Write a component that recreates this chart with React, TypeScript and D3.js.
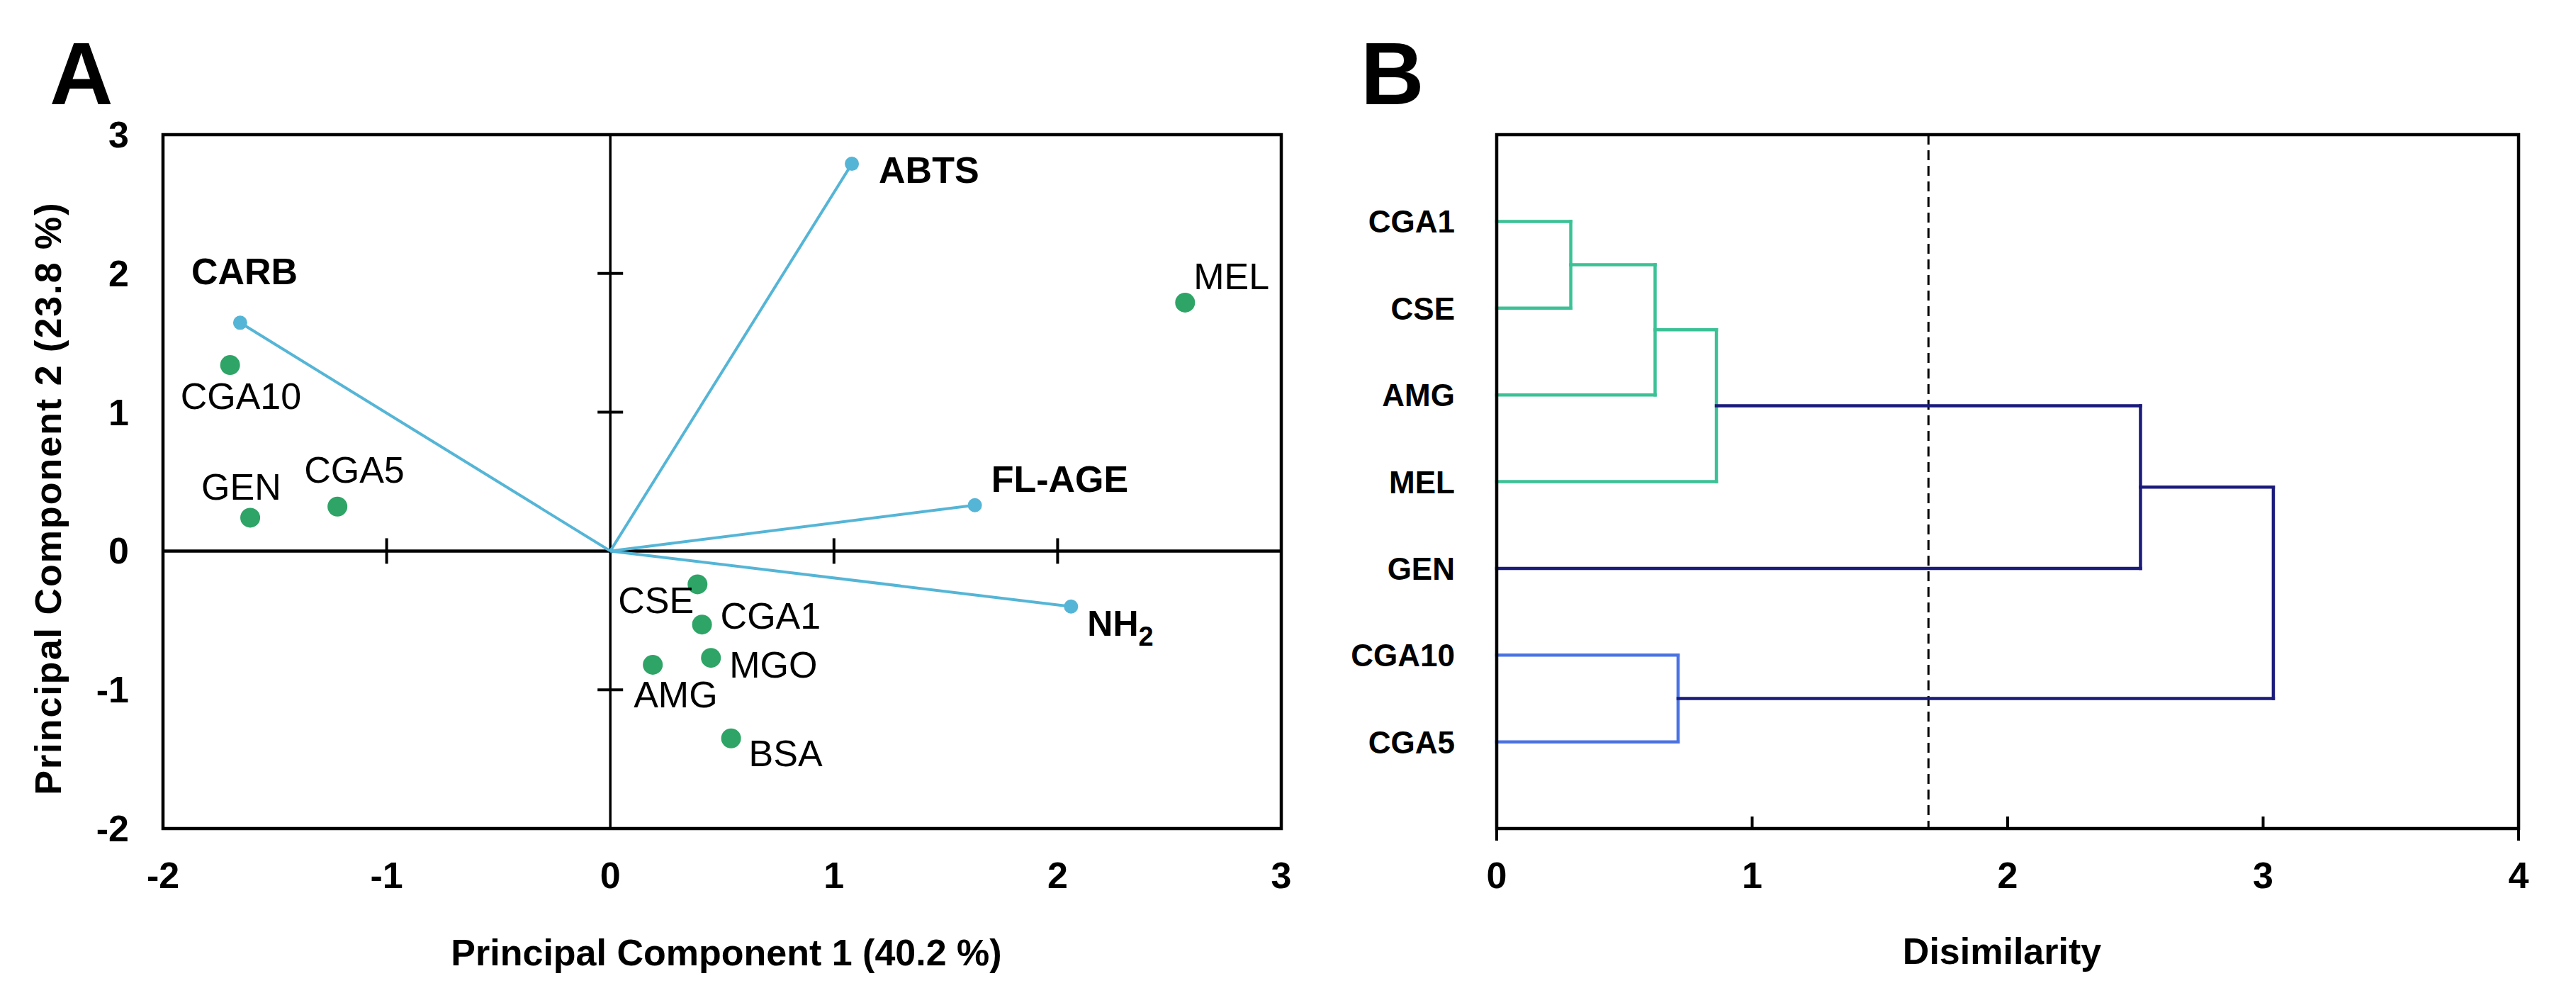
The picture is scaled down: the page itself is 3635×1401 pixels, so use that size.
import { useEffect } from 'react';
import * as d3 from 'd3';

// --- PCA scores (samples) ---
const sampleNames = ['CGA10', 'GEN', 'CGA5', 'MEL', 'CSE', 'CGA1', 'MGO', 'AMG', 'BSA'];
const sampleX = [-1.70, -1.61, -1.22, 2.57, 0.39, 0.41, 0.45, 0.19, 0.54];
const sampleY = [1.34, 0.24, 0.32, 1.79, -0.24, -0.53, -0.77, -0.82, -1.35];

// --- PCA loadings (variables) ---
const loadingNames = ['ABTS', 'CARB', 'FL-AGE', 'NH2'];
const loadingX = [1.08, -1.655, 1.63, 2.06];
const loadingY = [2.79, 1.645, 0.33, -0.40];

const pcaXTicks = [-2, -1, 0, 1, 2, 3];
const pcaYTicks = [-2, -1, 0, 1, 2, 3];

// --- Dendrogram ---
const leafOrder = ['CGA1', 'CSE', 'AMG', 'MEL', 'GEN', 'CGA10', 'CGA5'];
// children refer to leaves by name or to earlier merges as "#index"
const mergeLeft = ['CGA1', '#0', '#1', 'CGA10', '#2', '#4'];
const mergeRight = ['CSE', 'AMG', 'MEL', 'CGA5', 'GEN', '#3'];
const mergeHeight = [0.29, 0.62, 0.86, 0.71, 2.52, 3.04];
const cutHeight = 1.69;
const dendroTicks = [0, 1, 2, 3, 4];

// --- layout / style (not data) ---
const W = 3635;
const H = 1401;
const FONT = '"Liberation Sans", Arial, Helvetica, sans-serif';
const A = { left: 230, right: 1808, top: 190, bottom: 1169 };
const B = { left: 2112, right: 3554, top: 190, bottom: 1169 };

const labelOffset: Record<string, [number, number]> = {
    CGA10: [-70, 62], GEN: [-69, -25], CGA5: [-47, -34], MEL: [12, -19],
    CSE: [-112, 41], CGA1: [26, 6], MGO: [26, 28], AMG: [-27, 60], BSA: [25, 39],
    ABTS: [38, 27], CARB: [-69, -54], 'FL-AGE': [23, -19], NH2: [23, 41],
};

const GREEN_DOT = '#2ea466';
const VEC = '#55b5d6';
const C_GREEN = '#3cc196';
const C_BLUE = '#4a72e2';
const C_NAVY = '#1b1b7c';

const PCAPanel = () => {
    const x = d3.scaleLinear().domain([-2, 3]).range([A.left, A.right]);
    const y = d3.scaleLinear().domain([-2, 3]).range([A.bottom, A.top]);
    const x0 = x(0), y0 = y(0);

    return (
        <g fontFamily={FONT}>
            <text x={70} y={147} fontSize={124} fontWeight="bold">A</text>

            {/* cross axes */}
            <line x1={A.left} x2={A.right} y1={y0} y2={y0} stroke="#000" strokeWidth={4.5} />
            <line x1={x0} x2={x0} y1={A.top} y2={A.bottom} stroke="#000" strokeWidth={3.5} />
            {pcaXTicks.filter(t => t !== 0 && t !== -2 && t !== 3).map(t => (
                <line key={'xt' + t} x1={x(t)} x2={x(t)} y1={y0 - 18} y2={y0 + 18} stroke="#000" strokeWidth={4} />
            ))}
            {pcaYTicks.filter(t => t !== 0 && t !== -2 && t !== 3).map(t => (
                <line key={'yt' + t} x1={x0 - 18} x2={x0 + 18} y1={y(t)} y2={y(t)} stroke="#000" strokeWidth={4} />
            ))}

            {/* frame */}
            <rect x={A.left} y={A.top} width={A.right - A.left} height={A.bottom - A.top}
                  fill="none" stroke="#000" strokeWidth={4.5} />

            {/* tick labels */}
            {pcaXTicks.map(t => (
                <text key={'xl' + t} x={x(t)} y={1253} fontSize={52} fontWeight="bold" textAnchor="middle">{t}</text>
            ))}
            {pcaYTicks.map(t => (
                <text key={'yl' + t} x={182} y={y(t) + 18} fontSize={52} fontWeight="bold" textAnchor="end">{t}</text>
            ))}

            {/* loading vectors */}
            {loadingNames.map((n, i) => (
                <g key={n}>
                    <line x1={x0} y1={y0} x2={x(loadingX[i])} y2={y(loadingY[i])} stroke={VEC} strokeWidth={4} />
                    <circle cx={x(loadingX[i])} cy={y(loadingY[i])} r={10} fill={VEC} />
                    {n === 'NH2' ? (
                        <text x={x(loadingX[i]) + labelOffset[n][0]} y={y(loadingY[i]) + labelOffset[n][1]}
                              fontSize={50} fontWeight="bold">NH<tspan fontSize={38} dy={14}>2</tspan></text>
                    ) : (
                        <text x={x(loadingX[i]) + labelOffset[n][0]} y={y(loadingY[i]) + labelOffset[n][1]}
                              fontSize={52} fontWeight="bold">{n}</text>
                    )}
                </g>
            ))}

            {/* sample scores */}
            {sampleNames.map((n, i) => (
                <g key={n}>
                    <circle cx={x(sampleX[i])} cy={y(sampleY[i])} r={14} fill={GREEN_DOT} />
                    <text x={x(sampleX[i]) + labelOffset[n][0]} y={y(sampleY[i]) + labelOffset[n][1]}
                          fontSize={52}>{n}</text>
                </g>
            ))}

            {/* axis titles */}
            <text x={1025} y={1362} fontSize={52} fontWeight="bold" textAnchor="middle">Principal Component 1 (40.2 %)</text>
            <text transform={`translate(86,703) rotate(-90)`} fontSize={52} fontWeight="bold"
                  textAnchor="middle" letterSpacing={2}>Principal Component 2 (23.8 %)</text>
        </g>
    );
};

const DendroPanel = () => {
    const x = d3.scaleLinear().domain([0, 4]).range([B.left, B.right]);
    const y = d3.scaleLinear().domain([0, leafOrder.length + 1]).range([B.top, B.bottom]);

    // resolve node positions
    const leafPos = (name: string) => leafOrder.indexOf(name) + 1;
    const nodeY: number[] = [];
    const nodeLeaves: string[][] = [];
    const childInfo = (c: string) => {
        if (c.startsWith('#')) {
            const k = +c.slice(1);
            return { pos: nodeY[k], h: mergeHeight[k], leaves: nodeLeaves[k] };
        }
        return { pos: leafPos(c), h: 0, leaves: [c] };
    };

    const segs: { x1: number; y1: number; x2: number; y2: number; color: string }[] = [];
    mergeHeight.forEach((h, i) => {
        const a = childInfo(mergeLeft[i]);
        const b = childInfo(mergeRight[i]);
        nodeY[i] = (a.pos + b.pos) / 2;
        nodeLeaves[i] = [...a.leaves, ...b.leaves];
        let color = C_NAVY;
        if (h < cutHeight) color = nodeLeaves[i].includes('CGA10') ? C_BLUE : C_GREEN;
        segs.push({ x1: x(a.h), y1: y(a.pos), x2: x(h), y2: y(a.pos), color });
        segs.push({ x1: x(b.h), y1: y(b.pos), x2: x(h), y2: y(b.pos), color });
        segs.push({ x1: x(h), y1: y(a.pos), x2: x(h), y2: y(b.pos), color });
    });

    return (
        <g fontFamily={FONT}>
            <text x={1920} y={147} fontSize={124} fontWeight="bold">B</text>

            {/* cut line */}
            <line x1={x(cutHeight)} x2={x(cutHeight)} y1={B.top} y2={B.bottom} stroke="#000"
                  strokeWidth={3} strokeDasharray="14,8" />

            {segs.map((s, i) => (
                <line key={i} x1={s.x1} y1={s.y1} x2={s.x2} y2={s.y2} stroke={s.color}
                      strokeWidth={4.5} strokeLinecap="square" />
            ))}

            <rect x={B.left} y={B.top} width={B.right - B.left} height={B.bottom - B.top}
                  fill="none" stroke="#000" strokeWidth={4.5} />

            {dendroTicks.map(t => {
                const down = t === 0 || t === 4;
                return (
                    <g key={t}>
                        <line x1={x(t)} x2={x(t)} y1={B.bottom} y2={down ? B.bottom + 17 : B.bottom - 17}
                              stroke="#000" strokeWidth={4} />
                        <text x={x(t)} y={1253} fontSize={52} fontWeight="bold" textAnchor="middle">{t}</text>
                    </g>
                );
            })}

            {leafOrder.map((n, i) => (
                <text key={n} x={2053} y={y(i + 1) + 16} fontSize={44} fontWeight="bold" textAnchor="end">{n}</text>
            ))}

            <text x={(B.left + B.right) / 2 - 8} y={1360} fontSize={52} fontWeight="bold" textAnchor="middle">Disimilarity</text>
        </g>
    );
};

export default function App() {
    useEffect(() => {
        document.body.style.margin = '0';
    }, []);

    return (
        <svg width={W} height={H} viewBox={`0 0 ${W} ${H}`} style={{ display: 'block', background: '#fff' }}>
            <rect width={W} height={H} fill="#fff" />
            <PCAPanel />
            <DendroPanel />
        </svg>
    );
}
